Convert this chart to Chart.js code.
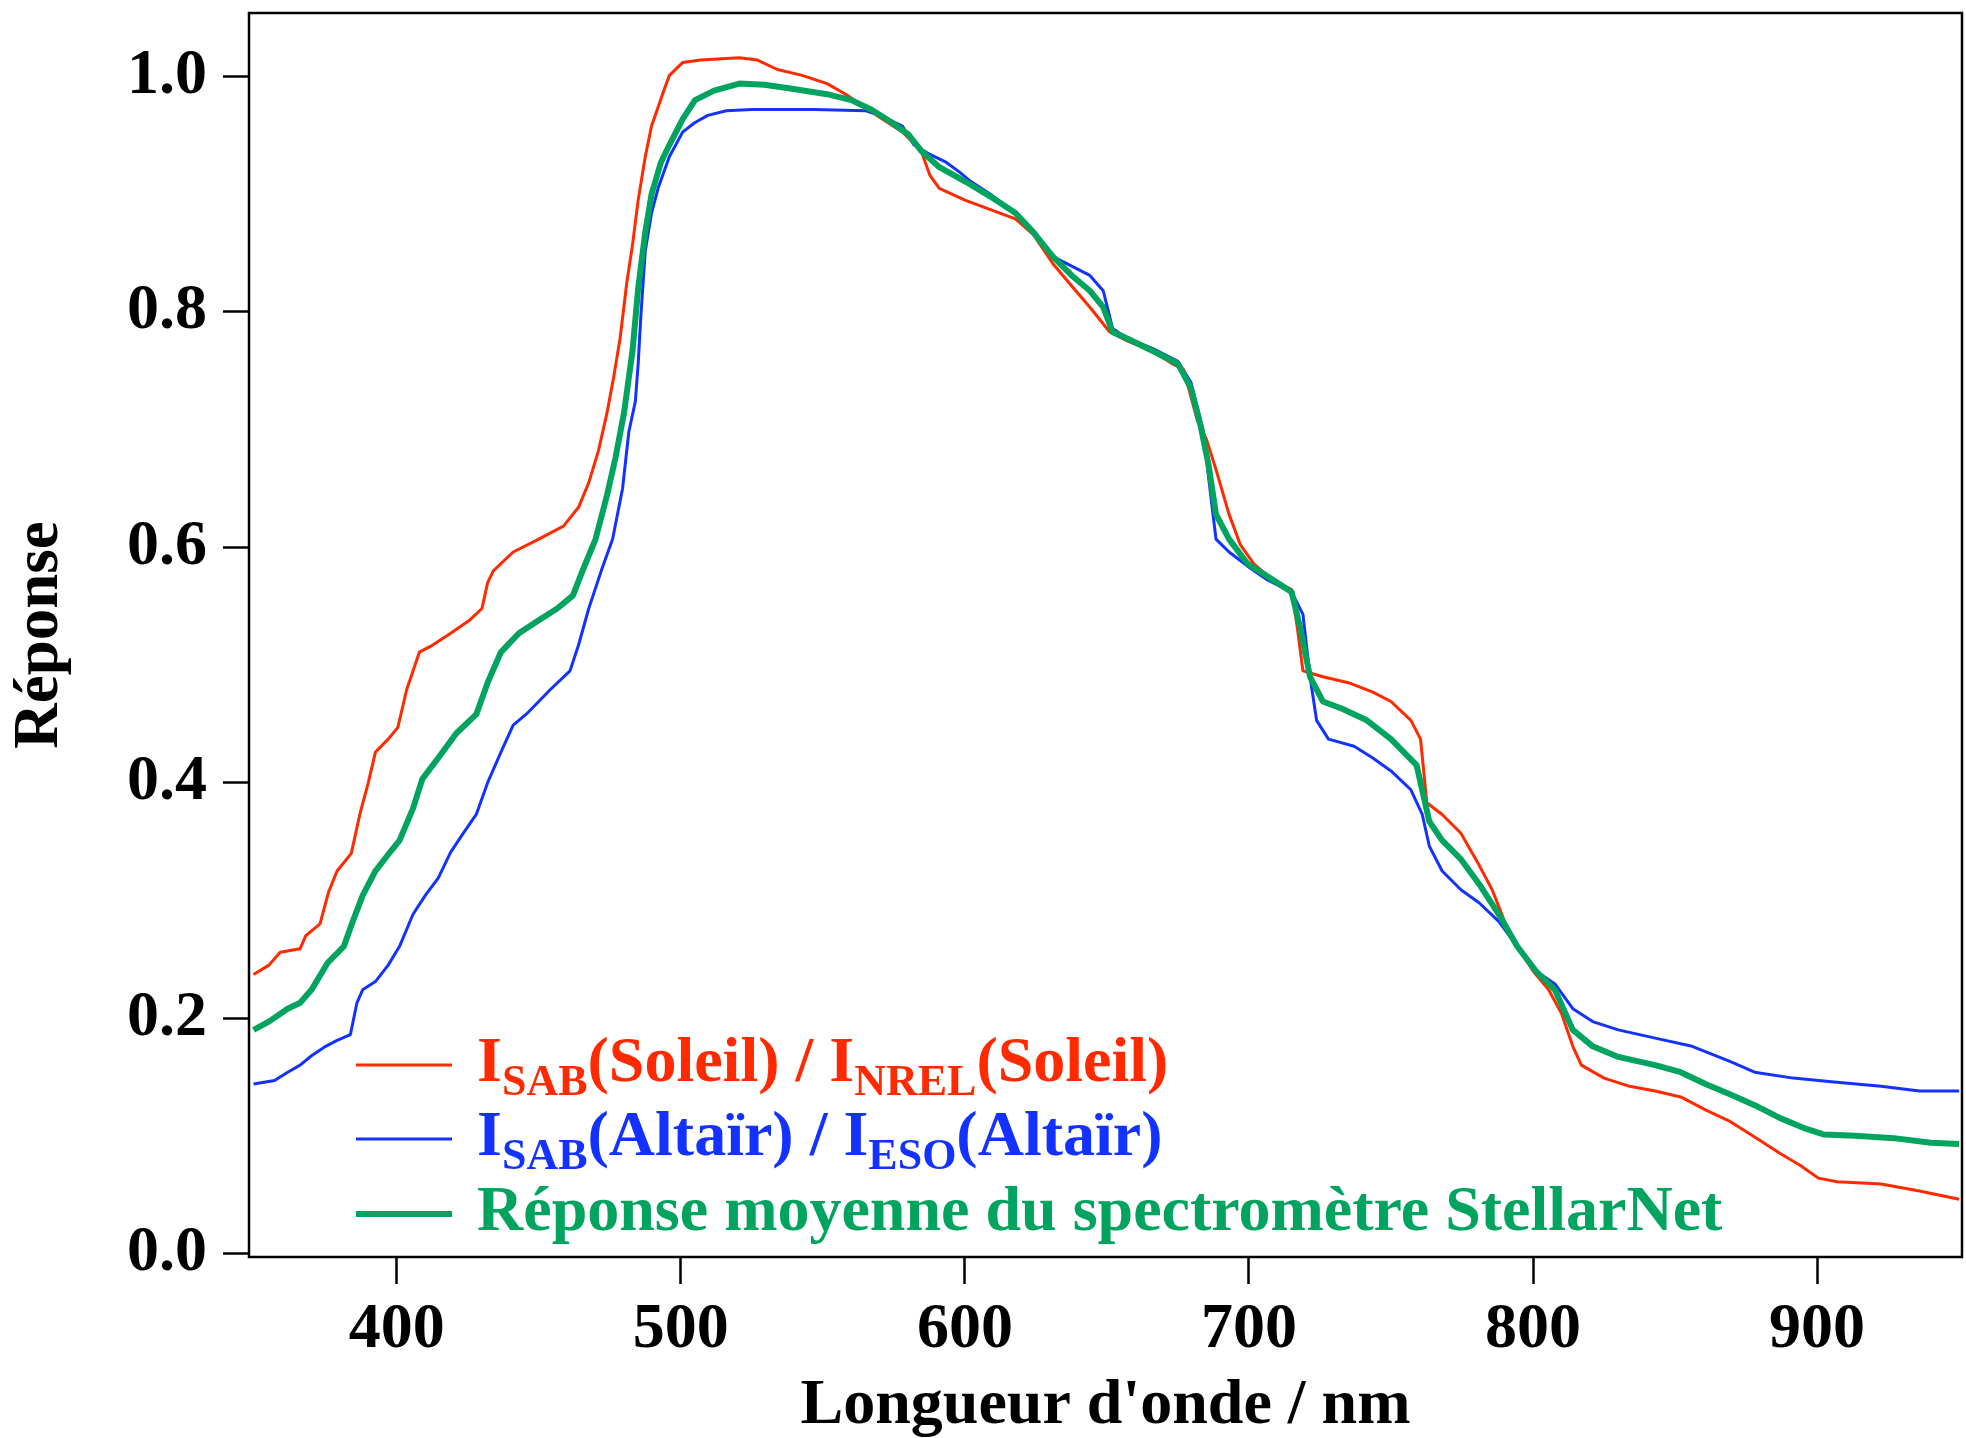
<!DOCTYPE html>
<html>
<head>
<meta charset="utf-8">
<title>Réponse du spectromètre StellarNet</title>
<script src="https://cdn.jsdelivr.net/npm/chart.js@4.4.1/dist/chart.umd.min.js"></script>
<style>
    html, body { margin: 0; padding: 0; background: #ffffff; }
    canvas { display: block; }
</style>
</head>
<body>
<canvas id="responseChart" width="1966" height="1438"></canvas>
<script>
// Data (wavelength in nm, response)
const soleilNm = [349.6, 355, 359, 366, 368, 373, 376, 379, 384, 387,
    390, 392.5, 397, 400.4, 403.5, 408, 412, 419, 425.6, 430,
    432, 434, 441, 450, 458.7, 464, 467.6, 471, 474, 476.4,
    478.6, 481, 483, 485, 487.5, 489.7, 492, 494, 496, 500.7,
    507, 520.6, 527, 534, 542.7, 551.5, 558, 565, 569, 578,
    584.6, 587.7, 591, 600, 609, 617.8, 624, 631, 637.6, 644,
    651, 657.5, 666, 673, 677, 681.8, 685, 688.4, 693, 697,
    701.7, 708, 715, 717, 719, 726, 735, 743.6, 750, 757,
    760.4, 762.6, 768, 774.6, 781, 785.6, 790, 794.4, 800, 805.5,
    810, 814, 817, 825, 834, 843, 852, 860.7, 869.5, 878,
    887, 894, 900.4, 907, 922.5, 936, 950];
const soleilVal = [0.237, 0.245, 0.256, 0.259, 0.27, 0.28, 0.307, 0.325, 0.34, 0.373,
    0.40, 0.426, 0.437, 0.447, 0.479, 0.511, 0.516, 0.527, 0.538, 0.548,
    0.57, 0.58, 0.596, 0.607, 0.618, 0.634, 0.655, 0.682, 0.714, 0.745,
    0.777, 0.825, 0.857, 0.895, 0.932, 0.958, 0.974, 0.988, 1.001, 1.012,
    1.014, 1.016, 1.014, 1.006, 1.001, 0.994, 0.985, 0.974, 0.967, 0.953,
    0.937, 0.916, 0.905, 0.895, 0.887, 0.879, 0.866, 0.841, 0.822, 0.804,
    0.783, 0.775, 0.767, 0.756, 0.751, 0.708, 0.692, 0.666, 0.628, 0.602,
    0.586, 0.573, 0.564, 0.532, 0.495, 0.49, 0.485, 0.477, 0.469, 0.453,
    0.437, 0.383, 0.373, 0.357, 0.33, 0.309, 0.282, 0.261, 0.24, 0.224,
    0.204, 0.176, 0.16, 0.149, 0.142, 0.138, 0.133, 0.122, 0.112, 0.099,
    0.085, 0.075, 0.064, 0.061, 0.059, 0.053, 0.046];

const altairNm = [349.6, 357, 361.6, 366, 370, 375, 379, 383.7, 386, 388,
    392.5, 397, 401, 405.7, 410, 414.6, 419, 423.4, 428, 432,
    436.7, 441, 445.5, 450, 454, 461, 464, 467.6, 472, 476,
    479.5, 481.7, 484, 485, 486, 487.5, 489.7, 492, 496, 500.7,
    505, 509.5, 516, 525, 547, 565, 571, 578, 582, 586.8,
    593.5, 598, 602, 609, 617.8, 624, 631, 637.6, 644, 648.7,
    652, 657.5, 666, 675, 679.6, 684, 686, 688.4, 693, 699.5,
    706, 715, 719, 721.5, 723.8, 728, 737, 743.6, 750, 757,
    761, 763.5, 768, 774.6, 781, 788, 794.4, 801, 807.7, 814,
    821, 830, 843, 856, 869.5, 878, 891.6, 905, 922.5, 936,
    950];
const altairVal = [0.144, 0.147, 0.154, 0.16, 0.168, 0.176, 0.181, 0.186, 0.213, 0.224,
    0.231, 0.245, 0.261, 0.288, 0.304, 0.319, 0.341, 0.357, 0.373, 0.40,
    0.426, 0.449, 0.458, 0.469, 0.479, 0.495, 0.517, 0.548, 0.58, 0.607,
    0.65, 0.698, 0.724, 0.756, 0.799, 0.852, 0.884, 0.905, 0.932, 0.953,
    0.961, 0.967, 0.971, 0.972, 0.972, 0.971, 0.966, 0.958, 0.942, 0.935,
    0.927, 0.919, 0.911, 0.9, 0.884, 0.868, 0.847, 0.839, 0.831, 0.818,
    0.786, 0.777, 0.769, 0.758, 0.74, 0.698, 0.655, 0.607, 0.596, 0.584,
    0.573, 0.562, 0.543, 0.49, 0.453, 0.437, 0.431, 0.421, 0.41, 0.394,
    0.373, 0.346, 0.325, 0.309, 0.298, 0.282, 0.261, 0.24, 0.229, 0.208,
    0.197, 0.19, 0.183, 0.176, 0.163, 0.154, 0.149, 0.146, 0.142, 0.138,
    0.138];

const moyenneNm = [349.6, 355, 361.6, 366, 370, 375.7, 381.4, 384.5, 388, 392.5,
    397, 401, 405.7, 409, 414.6, 421, 428, 432, 436.7, 443,
    450, 456.5, 462, 465.4, 470, 474, 477, 480, 483, 485,
    487.5, 489.7, 493, 496, 500.7, 505, 511.7, 520.6, 529.4, 538,
    551.5, 560, 567, 573.6, 580, 584.6, 591, 600, 609, 617.8,
    624, 631, 637.6, 644, 648.7, 652, 657.5, 666, 675, 679.6,
    683, 685.7, 688.4, 693, 699.5, 708, 715, 718, 721.5, 726,
    732.6, 741.5, 750, 759, 763.5, 768, 774.6, 781, 788, 794.4,
    801, 807.7, 814, 821, 830, 843, 852, 860.7, 869.5, 878,
    887, 896, 902.5, 913.6, 927, 940, 950];
const moyenneVal = [0.19, 0.197, 0.208, 0.213, 0.224, 0.247, 0.261, 0.282, 0.304, 0.325,
    0.339, 0.351, 0.378, 0.403, 0.421, 0.442, 0.458, 0.485, 0.511, 0.527,
    0.538, 0.548, 0.559, 0.58, 0.607, 0.644, 0.676, 0.714, 0.767, 0.82,
    0.868, 0.9, 0.927, 0.942, 0.964, 0.98, 0.988, 0.994, 0.993, 0.99,
    0.985, 0.98, 0.972, 0.962, 0.951, 0.937, 0.923, 0.911, 0.898, 0.884,
    0.868, 0.847, 0.831, 0.818, 0.804, 0.783, 0.777, 0.767, 0.756, 0.735,
    0.703, 0.671, 0.628, 0.607, 0.586, 0.573, 0.562, 0.532, 0.49, 0.469,
    0.463, 0.453, 0.437, 0.415, 0.367, 0.351, 0.335, 0.314, 0.288, 0.261,
    0.24, 0.224, 0.19, 0.176, 0.167, 0.16, 0.154, 0.144, 0.135, 0.126,
    0.115, 0.106, 0.101, 0.1, 0.098, 0.094, 0.093];

const xTicks = [400, 500, 600, 700, 800, 900];
const yTicks = [0.0, 0.2, 0.4, 0.6, 0.8, 1.0];

// Legend labels: pieces of text, sub = subscript
const soleilLabel = [{ t: 'I' }, { t: 'SAB', sub: true }, { t: '(Soleil) / I' }, { t: 'NREL', sub: true }, { t: '(Soleil)' }];
const altairLabel = [{ t: 'I' }, { t: 'SAB', sub: true }, { t: '(Altaïr) / I' }, { t: 'ESO', sub: true }, { t: '(Altaïr)' }];
const moyenneLabel = [{ t: 'Réponse moyenne du spectromètre StellarNet' }];

const colors = {
    red: '#ff2a00',
    blue: '#1432ff',
    green: '#00a45e'
};

const FONT = '"Liberation Serif", "Times New Roman", serif';

function toPoints(xs, ys) {
    return xs.map((x, i) => ({ x: x, y: ys[i] }));
}

// Box around the plot
const framePlugin = {
    id: 'frame',
    afterDatasetsDraw(chart) {
        const { ctx, chartArea } = chart;
        ctx.save();
        ctx.strokeStyle = '#000000';
        ctx.lineWidth = 2.5;
        ctx.strokeRect(chartArea.left, chartArea.top,
            chartArea.right - chartArea.left, chartArea.bottom - chartArea.top);
        ctx.restore();
    }
};

// Legend drawn by hand because of the subscripts
const legendPlugin = {
    id: 'subLegend',
    afterDraw(chart) {
        const ctx = chart.ctx;
        const left = chart.chartArea.left;
        const rows = [
            { parts: soleilLabel, color: colors.red, width: 3, y: 1065 },
            { parts: altairLabel, color: colors.blue, width: 3, y: 1139 },
            { parts: moyenneLabel, color: colors.green, width: 6, y: 1214 }
        ];
        ctx.save();
        rows.forEach(row => {
            ctx.strokeStyle = row.color;
            ctx.lineWidth = row.width;
            ctx.beginPath();
            ctx.moveTo(left + 107, row.y);
            ctx.lineTo(left + 203, row.y);
            ctx.stroke();

            let x = left + 228;
            const base = row.y + 16;
            ctx.fillStyle = row.color;
            ctx.textBaseline = 'alphabetic';
            ctx.textAlign = 'left';
            row.parts.forEach(p => {
                ctx.font = p.sub ? 'bold 44px ' + FONT : 'bold 64px ' + FONT;
                ctx.fillText(p.t, x, p.sub ? base + 14 : base);
                x += ctx.measureText(p.t).width;
            });
        });
        ctx.restore();
    }
};

const ctx = document.getElementById('responseChart');
new Chart(ctx, {
    type: 'line',
    data: {
        datasets: [
            {
                label: 'Réponse moyenne du spectromètre StellarNet',
                data: toPoints(moyenneNm, moyenneVal),
                borderColor: colors.green,
                borderWidth: 6,
                order: 0
            },
            {
                label: 'ISAB(Soleil) / INREL(Soleil)',
                data: toPoints(soleilNm, soleilVal),
                borderColor: colors.red,
                borderWidth: 3,
                order: 1
            },
            {
                label: 'ISAB(Altaïr) / IESO(Altaïr)',
                data: toPoints(altairNm, altairVal),
                borderColor: colors.blue,
                borderWidth: 3,
                order: 2
            }
        ]
    },
    options: {
        responsive: false,
        animation: false,
        devicePixelRatio: 1,
        elements: {
            point: { radius: 0 },
            line: { tension: 0, fill: false, borderJoinStyle: 'round' }
        },
        layout: {
            padding: { top: 13, right: 4, left: 0, bottom: 0 }
        },
        plugins: {
            legend: { display: false },
            tooltip: { enabled: false }
        },
        scales: {
            x: {
                type: 'linear',
                min: 348,
                max: 951,
                afterFit: function(scale) {
                    scale.height = 181;
                    scale.paddingLeft = 0;
                    scale.paddingRight = 0;
                },
                afterBuildTicks: function(scale) {
                    scale.ticks = xTicks.map(v => ({ value: v }));
                },
                border: { display: false },
                grid: {
                    drawOnChartArea: false,
                    drawTicks: true,
                    tickLength: 27,
                    tickWidth: 2.5,
                    tickColor: '#000000'
                },
                ticks: {
                    color: '#000000',
                    padding: 8,
                    maxRotation: 0,
                    font: { family: FONT, size: 64, weight: 'bold' },
                    callback: v => String(v)
                },
                title: {
                    display: true,
                    text: "Longueur d'onde / nm",
                    color: '#000000',
                    font: { family: FONT, size: 64, weight: 'bold', lineHeight: 1.0 },
                    padding: { top: 0, bottom: 0 }
                }
            },
            y: {
                type: 'linear',
                min: -0.003,
                max: 1.054,
                afterFit: function(scale) {
                    scale.width = 249;
                    scale.paddingTop = 0;
                    scale.paddingBottom = 0;
                },
                afterBuildTicks: function(scale) {
                    scale.ticks = yTicks.map(v => ({ value: v }));
                },
                border: { display: false },
                grid: {
                    drawOnChartArea: false,
                    drawTicks: true,
                    tickLength: 26,
                    tickWidth: 2.5,
                    tickColor: '#000000'
                },
                ticks: {
                    color: '#000000',
                    padding: 16,
                    font: { family: FONT, size: 64, weight: 'bold' },
                    callback: v => v.toFixed(1)
                },
                title: {
                    display: true,
                    text: 'Réponse',
                    color: '#000000',
                    font: { family: FONT, size: 63, weight: 'bold', lineHeight: 1.2 },
                    padding: { top: 3, bottom: 0 }
                }
            }
        }
    },
    plugins: [framePlugin, legendPlugin]
});
</script>
</body>
</html>
